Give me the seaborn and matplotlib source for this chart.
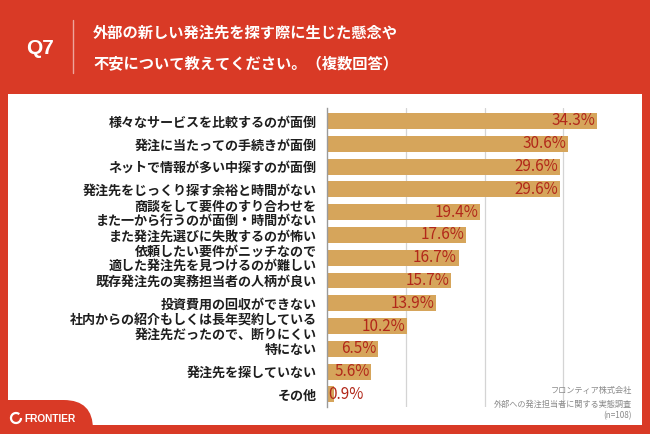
import matplotlib
matplotlib.use("Agg")
import matplotlib.pyplot as plt
import seaborn as sns
import pandas as pd
from matplotlib.patches import Rectangle, FancyBboxPatch, Arc
from matplotlib.lines import Line2D

categories = [
    "様々なサービスを比較するのが面倒",
    "発注に当たっての手続きが面倒",
    "ネットで情報が多い中探すのが面倒",
    "発注先をじっくり探す余裕と時間がない",
    "商談をして要件のすり合わせを\nまた一から行うのが面倒・時間がない",
    "また発注先選びに失敗するのが怖い",
    "依頼したい要件がニッチなので\n適した発注先を見つけるのが難しい",
    "既存発注先の実務担当者の人柄が良い",
    "投資費用の回収ができない",
    "社内からの紹介もしくは長年契約している\n発注先だったので、断りにくい",
    "特にない",
    "発注先を探していない",
    "その他",
]
values = [34.3, 30.6, 29.6, 29.6, 19.4, 17.6, 16.7, 15.7, 13.9, 10.2, 6.5, 5.6, 0.9]
value_labels = ["34.3%", "30.6%", "29.6%", "29.6%", "19.4%", "17.6%", "16.7%",
                "15.7%", "13.9%", "10.2%", "6.5%", "5.6%", "0.9%"]
title_lines = ["外部の新しい発注先を探す際に生じた懸念や", "不安について教えてください。（複数回答）"]
source_lines = ["フロンティア株式会社", "外部への発注担当者に関する実態調査", "(n=108)"]

sns.set_theme(style="white")
plt.rcParams['font.family'] = ['Noto Sans CJK JP', 'DejaVu Sans']

RED = "#D93A26"
BAR = "#D6A55B"
VAL = "#B2281A"

W, H = 650, 434
fig = plt.figure(figsize=(6.5, 4.34), dpi=100, facecolor=RED)

def fx(px):
    return px / W

def fy(py):
    return 1 - py / H

# white panel
fig.patches.append(Rectangle((fx(8), fy(425)), fx(642) - fx(8), fy(94) - fy(425),
                             transform=fig.transFigure, facecolor="white", edgecolor="none", zorder=-2))
# bottom-left red tab with rounded top-right corner
fig.patches.append(FancyBboxPatch((fx(-40), fy(470)), fx(133), fy(400) - fy(470),
                                  boxstyle="round,pad=0,rounding_size=0.045",
                                  transform=fig.transFigure, facecolor=RED, edgecolor="none", zorder=-1,
                                  mutation_aspect=650/434))

df = pd.DataFrame({"category": categories, "value": values})

ax = fig.add_axes([fx(327), fy(407), fx(642) - fx(327), fy(108) - fy(407)])
ax.set_zorder(3)
ax.set_facecolor("none")
ax.patch.set_alpha(0)
sns.barplot(data=df, x="value", y="category", color=BAR, width=0.7, ax=ax,
            saturation=1, edgecolor="none", zorder=3)
ax.set_xlim(0, 40)
ax.set_ylim(12.55, -0.57)
ax.set_xticks([10, 20, 30])
ax.set_xticklabels([])
ax.tick_params(axis="x", length=0)
ax.grid(axis="x", color="#d4d4d4", linewidth=0.9, zorder=0)
ax.set_axisbelow(True)
ax.set_xlabel("")
ax.set_ylabel("")
for s in ["top", "right", "bottom"]:
    ax.spines[s].set_visible(False)
ax.spines["left"].set_color("#9a9a9a")
ax.spines["left"].set_linewidth(1.0)
ax.spines["left"].set_zorder(4)
ax.tick_params(axis="y", length=0, pad=7.5)
for lbl in ax.get_yticklabels():
    lbl.set_fontsize(9.4)
    lbl.set_fontweight("bold")
    lbl.set_color("#1e1e1e")
    lbl.set_linespacing(1.0)
    lbl.set_ha("right")

for i, (v, t) in enumerate(zip(values, value_labels)):
    if v < 3:
        ax.text(0.2, i, t, ha="left", va="center", fontsize=11, color=VAL, zorder=5)
    else:
        ax.text(v - 0.2, i, t, ha="right", va="center", fontsize=11, color=VAL, zorder=5)

# header
fig.text(fx(40), fy(48), "Q7", ha="center", va="center", fontsize=15, fontweight="bold",
         color="white", family=["Liberation Sans", "DejaVu Sans"])
fig.lines.append(Line2D([fx(73), fx(73)], [fy(20), fy(73)], transform=fig.transFigure,
                        color="white", alpha=0.55, linewidth=1))
fig.text(fx(93), fy(33), title_lines[0], ha="left", va="center", fontsize=11,
         fontweight="bold", color="white")
fig.text(fx(93), fy(63), title_lines[1], ha="left", va="center", fontsize=11,
         fontweight="bold", color="white")

# source
for yy, s in zip([391, 404, 416], source_lines):
    fig.text(fx(632), fy(yy), s, ha="right", va="center", fontsize=5.9, color="#8a8a8a")

# logo
fig.patches.append(Arc((fx(16), fy(418)), fx(10), fx(10) * W / H, theta1=60, theta2=360,
                       transform=fig.transFigure, color="white", linewidth=1.6, zorder=3))
fig.text(fx(24), fy(418.5), "FRONTIER", ha="left", va="center", fontsize=7.3,
         fontweight="bold", color="white", family=["Liberation Sans", "DejaVu Sans"])

fig.savefig("out.png", dpi=100, facecolor=RED)
